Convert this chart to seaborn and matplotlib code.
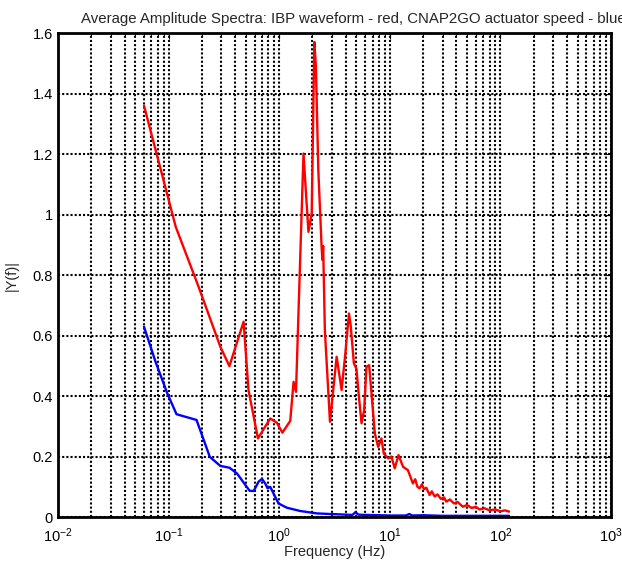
import matplotlib
matplotlib.use("Agg")
import matplotlib.pyplot as plt
import numpy as np
import pandas as pd
import seaborn as sns

# values
red_freq = [0.06, 0.116, 0.187, 0.294, 0.355, 0.477, 0.528, 0.643, 0.83, 0.953,
            1.07, 1.26, 1.35, 1.42, 1.66, 1.84, 1.97, 2.08, 2.15, 2.26, 2.42,
            2.46, 2.5, 2.59, 2.88, 3.31, 3.67, 3.94, 4.28, 4.43, 4.74, 5.0,
            5.26, 5.56, 5.87, 6.16, 6.51, 6.84, 7.33, 7.85, 8.41, 8.83, 9.66,
            10.35, 11.1, 12.0, 13.2, 14.6, 15.3, 16.2, 17.0, 17.8, 18.6, 19.5,
            20.4, 21.4, 22.9, 24.0, 25.5, 27.0, 29.0, 31.0, 32.4, 35.0, 38.0,
            41.0, 45.8, 50.0, 55.0, 60.0, 64.7, 72.0, 80.0, 90.0, 100.0, 110.0, 120.0]
red_amp = [1.36, 0.96, 0.761, 0.563, 0.499, 0.646, 0.42, 0.26, 0.326, 0.312,
           0.279, 0.318, 0.447, 0.414, 1.202, 0.943, 1.004, 1.571, 1.489, 1.147, 0.894,
           0.85, 0.896, 0.618, 0.315, 0.53, 0.42, 0.53, 0.673, 0.635, 0.508, 0.49,
           0.398, 0.31, 0.354, 0.497, 0.502, 0.409, 0.277, 0.232, 0.26, 0.21, 0.194,
           0.2, 0.161, 0.205, 0.166, 0.155, 0.135, 0.111, 0.125, 0.100, 0.095, 0.108,
           0.092, 0.097, 0.073, 0.085, 0.068, 0.075, 0.060, 0.065, 0.051, 0.058, 0.045,
           0.050, 0.034, 0.040, 0.030, 0.034, 0.025, 0.029, 0.022, 0.025, 0.019, 0.022, 0.018]

blue_freq = [0.06, 0.0763, 0.0974, 0.118, 0.179, 0.236, 0.294, 0.356, 0.416, 0.54,
             0.588, 0.652, 0.699, 0.748, 0.786, 0.83, 0.986, 1.17, 1.55, 2.19, 2.88,
             4.0, 4.6, 4.9, 5.2, 6.0, 8.0, 10.0, 14.0, 15.0, 16.0, 20.0, 30.0, 60.0, 120.0]
blue_amp = [0.629, 0.513, 0.409, 0.34, 0.321, 0.199, 0.169, 0.163, 0.144, 0.087,
            0.086, 0.117, 0.126, 0.111, 0.095, 0.1, 0.045, 0.031, 0.02, 0.012, 0.01,
            0.008, 0.007, 0.016, 0.008, 0.007, 0.006, 0.005, 0.005, 0.010, 0.005, 0.006, 0.004, 0.004, 0.004]

red = pd.DataFrame({"f": red_freq, "amp": red_amp})
blue = pd.DataFrame({"f": blue_freq, "amp": blue_amp})

sns.set_style("white")
plt.rcParams['font.family'] = ['Liberation Sans', 'DejaVu Sans']
plt.rcParams['mathtext.fontset'] = 'custom'
plt.rcParams['mathtext.rm'] = 'Liberation Sans'
plt.rcParams['mathtext.it'] = 'Liberation Sans'

fig = plt.figure(figsize=(6.22, 5.62), dpi=100)
ax = fig.add_axes([0.0932, 0.080, 0.889, 0.861])

sns.lineplot(data=red, x="f", y="amp", color="red", lw=1.7, estimator=None, sort=False, ax=ax)
sns.lineplot(data=blue, x="f", y="amp", color="blue", lw=1.7, estimator=None, sort=False, ax=ax)

ax.set_xscale("log")
ax.set_xlim(1e-2, 1e3)
ax.set_ylim(0, 1.6)
ax.set_yticks(np.arange(0, 1.61, 0.2))
ax.set_yticklabels(["0", "0.2", "0.4", "0.6", "0.8", "1", "1.2", "1.4", "1.6"])

dots = (0, (1, 1))
ax.grid(True, which="major", axis="both", color="black", linestyle=dots, lw=1.5)
ax.grid(True, which="minor", axis="x", color="black", linestyle=dots, lw=1.5)
ax.tick_params(which="both", direction="in", top=True, right=True, labelsize=10.5, colors="black")
ax.tick_params(which="major", length=4)
ax.tick_params(which="minor", length=2)
ax.tick_params(axis="x", which="major", pad=7)
for s in ax.spines.values():
    s.set_color("black")
    s.set_linewidth(2)

ax.set_xlabel("Frequency (Hz)", fontsize=10.5, labelpad=0)
ax.set_ylabel("|Y(f)|", fontsize=10.5, labelpad=10)
ax.set_title("Average Amplitude Spectra: IBP waveform - red, CNAP2GO actuator speed - blue",
             fontsize=10.8, x=0.535, pad=7)

fig.savefig("out.png", dpi=100)
